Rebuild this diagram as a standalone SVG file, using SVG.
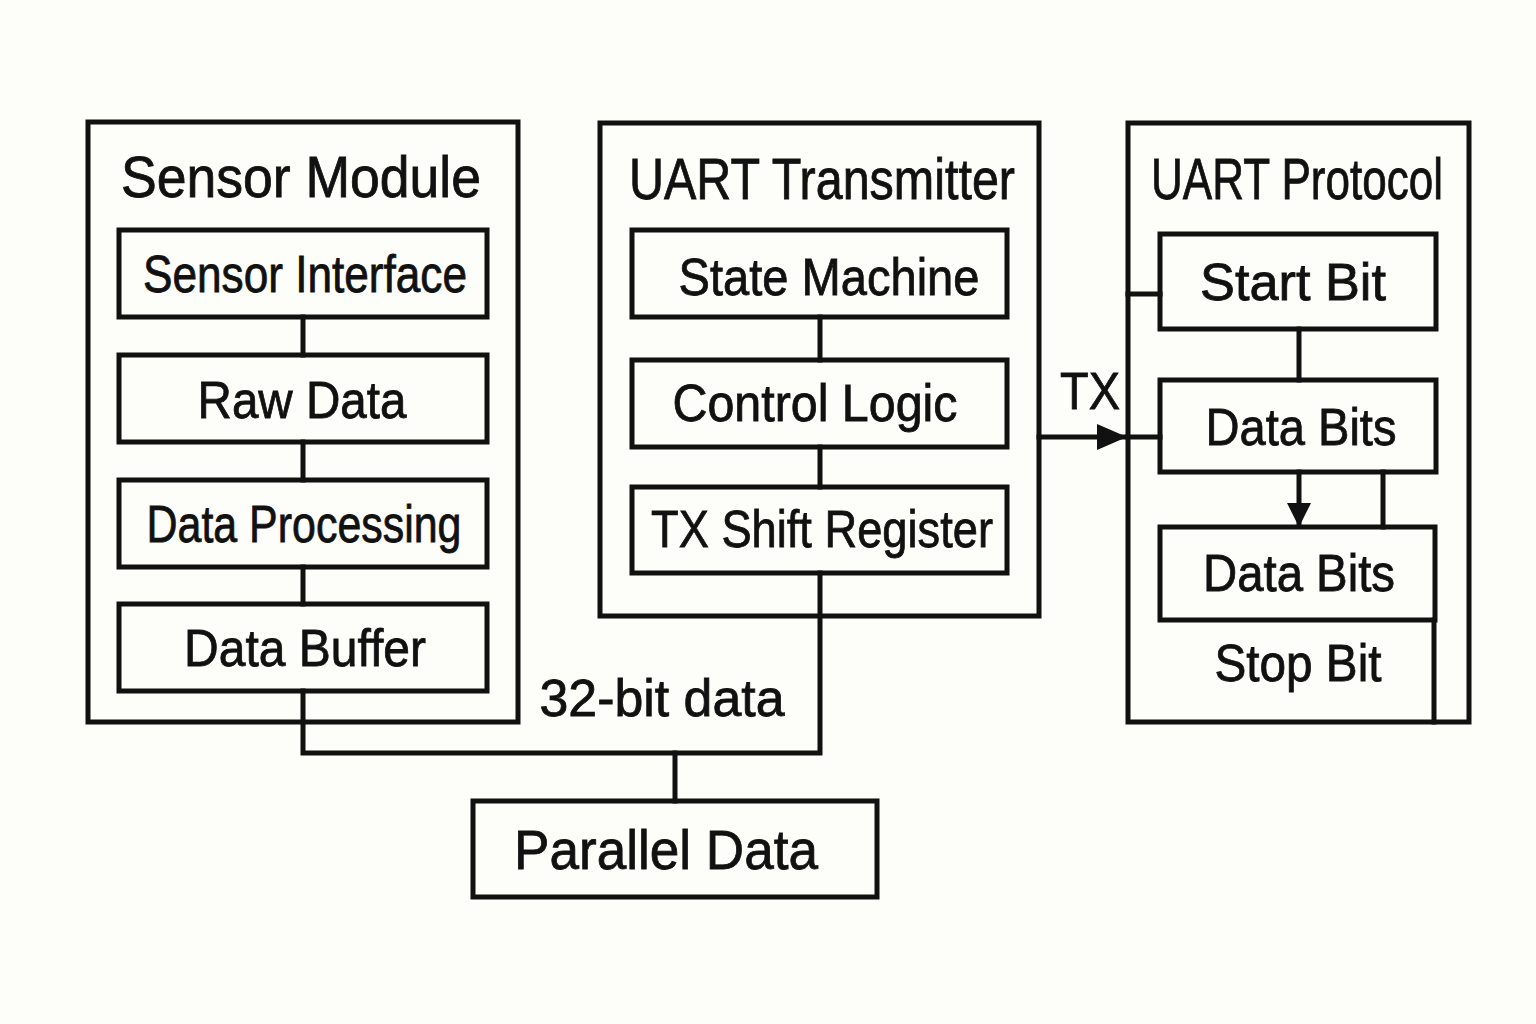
<svg xmlns="http://www.w3.org/2000/svg" width="1536" height="1024" viewBox="0 0 1536 1024">
  <style>
    .box { fill: none; stroke: #111; stroke-width: 5; stroke-linejoin: miter; }
    .wire { fill: none; stroke: #111; stroke-width: 5; stroke-linecap: square; }
    .t { font-family: "Liberation Sans", "DejaVu Sans", sans-serif; fill: #111; stroke: #111; stroke-width: 0.8; text-anchor: middle; }
    .title { font-size: 57px; }
    .lbl { font-size: 52px; }
  </style>
  <defs>
    <marker id="arr" markerUnits="userSpaceOnUse" markerWidth="30" markerHeight="26" refX="29" refY="13" orient="auto">
      <path d="M0,0 L30,13 L0,26 z" fill="#111"/>
    </marker>
    <marker id="arrs" markerUnits="userSpaceOnUse" markerWidth="24" markerHeight="24" refX="23" refY="12" orient="auto">
      <path d="M0,0 L24,12 L0,24 z" fill="#111"/>
    </marker>
  </defs>
  <rect x="0" y="0" width="1536" height="1024" fill="#fdfdf9"/>

  <g id="connectors">
    <line class="wire" x1="303" y1="317" x2="303" y2="355"/>
    <line class="wire" x1="303" y1="442" x2="303" y2="480"/>
    <line class="wire" x1="303" y1="567" x2="303" y2="604"/>
    <line class="wire" x1="820" y1="317" x2="820" y2="360"/>
    <line class="wire" x1="820" y1="447" x2="820" y2="487"/>
    <polyline class="wire" points="303,691 303,753 820,753 820,573"/>
    <line class="wire" x1="675" y1="753" x2="675" y2="801"/>
    <line class="wire" x1="1039" y1="437" x2="1126" y2="437" marker-end="url(#arr)"/>
    <line class="wire" x1="1128" y1="437" x2="1160" y2="437"/>
    <line class="wire" x1="1128" y1="294" x2="1160" y2="294"/>
    <line class="wire" x1="1299" y1="329" x2="1299" y2="380"/>
    <line class="wire" x1="1299" y1="472" x2="1299" y2="526" marker-end="url(#arrs)"/>
    <line class="wire" x1="1383" y1="472" x2="1383" y2="527"/>
    <line class="wire" x1="1434" y1="620" x2="1434" y2="722"/>
  </g>

  <g id="sensor-module">
    <rect class="box" x="88" y="122" width="430" height="600"/>
    <text class="t title" x="301" y="197" textLength="360" lengthAdjust="spacingAndGlyphs">Sensor  Module</text>
  </g>
  <g id="sensor-interface">
    <rect class="box" x="119" y="230" width="368" height="87"/>
    <text class="t lbl" x="305" y="292" textLength="324" lengthAdjust="spacingAndGlyphs">Sensor Interface</text>
  </g>
  <g id="raw-data">
    <rect class="box" x="119" y="355" width="368" height="87"/>
    <text class="t lbl" x="302" y="418" textLength="209" lengthAdjust="spacingAndGlyphs">Raw Data</text>
  </g>
  <g id="data-processing">
    <rect class="box" x="119" y="480" width="368" height="87"/>
    <text class="t lbl" x="304" y="542" textLength="315" lengthAdjust="spacingAndGlyphs">Data Processing</text>
  </g>
  <g id="data-buffer">
    <rect class="box" x="119" y="604" width="368" height="87"/>
    <text class="t lbl" x="305" y="666" textLength="242" lengthAdjust="spacingAndGlyphs">Data Buffer</text>
  </g>

  <g id="uart-transmitter">
    <rect class="box" x="600" y="123" width="439" height="493"/>
    <text class="t title" x="822" y="199" textLength="386" lengthAdjust="spacingAndGlyphs">UART Transmitter</text>
  </g>
  <g id="state-machine">
    <rect class="box" x="632" y="230" width="375" height="87"/>
    <text class="t lbl" x="829" y="295" textLength="301" lengthAdjust="spacingAndGlyphs">State Machine</text>
  </g>
  <g id="control-logic">
    <rect class="box" x="632" y="360" width="375" height="87"/>
    <text class="t lbl" x="815" y="421" textLength="285" lengthAdjust="spacingAndGlyphs">Control Logic</text>
  </g>
  <g id="tx-shift-register">
    <rect class="box" x="632" y="487" width="375" height="86"/>
    <text class="t lbl" x="822" y="547" textLength="342" lengthAdjust="spacingAndGlyphs">TX Shift Register</text>
  </g>

  <g id="uart-protocol">
    <rect class="box" x="1128" y="123" width="341" height="599"/>
    <text class="t title" x="1297" y="199" textLength="292" lengthAdjust="spacingAndGlyphs">UART Protocol</text>
    <text class="t lbl" x="1298" y="681" textLength="167" lengthAdjust="spacingAndGlyphs">Stop Bit</text>
  </g>
  <g id="start-bit">
    <rect class="box" x="1160" y="234" width="276" height="95"/>
    <text class="t lbl" x="1293" y="300" textLength="186" lengthAdjust="spacingAndGlyphs">Start Bit</text>
  </g>
  <g id="data-bits-1">
    <rect class="box" x="1160" y="380" width="276" height="92"/>
    <text class="t lbl" x="1301" y="445" textLength="191" lengthAdjust="spacingAndGlyphs">Data Bits</text>
  </g>
  <g id="data-bits-2">
    <rect class="box" x="1160" y="527" width="275" height="93"/>
    <text class="t lbl" x="1299" y="591" textLength="192" lengthAdjust="spacingAndGlyphs">Data Bits</text>
  </g>

  <g id="parallel-data">
    <rect class="box" x="473" y="801" width="404" height="96"/>
    <text class="t lbl" x="666" y="869" textLength="304" lengthAdjust="spacingAndGlyphs" style="font-size:56px">Parallel Data</text>
  </g>

  <g id="labels">
    <text class="t lbl" x="1090" y="409" textLength="60" lengthAdjust="spacingAndGlyphs">TX</text>
    <text class="t lbl" x="662" y="716" textLength="245" lengthAdjust="spacingAndGlyphs">32-bit data</text>
  </g>
</svg>
